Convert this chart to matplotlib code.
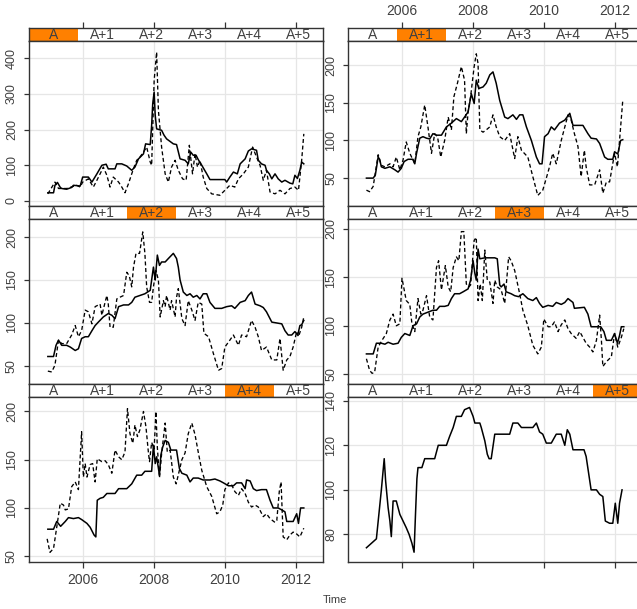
import matplotlib
matplotlib.use("Agg")
import matplotlib.pyplot as plt
from matplotlib import font_manager
from matplotlib.font_manager import FontProperties
from matplotlib.patches import Rectangle


def has_font(name):
    try:
        font_manager.findfont(FontProperties(family=name), fallback_to_default=False)
        return True
    except Exception:
        return False


MAIN_FONT = "Liberation Sans" if has_font("Liberation Sans") else "DejaVu Sans"
NARROW_FONT = "Liberation Sans Narrow" if has_font("Liberation Sans Narrow") else MAIN_FONT
plt.rcParams["font.family"] = [MAIN_FONT, "DejaVu Sans"]

# ---------------- data ----------------
levels = ["A", "A+1", "A+2", "A+3", "A+4", "A+5"]
year_ticks = [2006, 2008, 2010, 2012]

A_solid = [(2005.02,23),(2005.18,23),(2005.22,44),(2005.29,52),(2005.37,38),(2005.41,35),(2005.55,33),(2005.69,38),(2005.74,44),(2005.93,42),(2006.00,67),(2006.16,67),(2006.26,53),(2006.40,76),(2006.54,100),(2006.66,103),(2006.72,90),(2006.91,90),(2006.96,104),(2007.10,104),(2007.24,98),(2007.38,86),(2007.47,95),(2007.57,118),(2007.71,132),(2007.77,160),(2007.90,158),(2007.94,212),(2007.97,272),(2008.01,305),(2008.04,240),(2008.08,202),(2008.22,198),(2008.29,184),(2008.36,174),(2008.55,160),(2008.64,158),(2008.74,118),(2008.88,114),(2008.97,104),(2009.04,137),(2009.11,128),(2009.19,128),(2009.25,116),(2009.35,100),(2009.49,76),(2009.58,60),(2010.00,60),(2010.05,53),(2010.14,67),(2010.24,81),(2010.35,76),(2010.43,104),(2010.57,118),(2010.66,140),(2010.75,146),(2010.89,142),(2010.94,114),(2011.03,104),(2011.13,100),(2011.17,86),(2011.25,76),(2011.32,62),(2011.41,76),(2011.50,62),(2011.60,53),(2011.69,58),(2011.83,50),(2011.91,48),(2011.97,72),(2012.04,63),(2012.11,86),(2012.16,109),(2012.22,104)]
A_dashed = [(2005.02,20),(2005.22,53),(2005.32,35),(2005.55,35),(2005.83,44),(2005.93,39),(2006.00,53),(2006.16,62),(2006.30,39),(2006.40,58),(2006.54,86),(2006.58,95),(2006.68,72),(2006.77,39),(2006.86,67),(2007.01,53),(2007.10,39),(2007.19,23),(2007.29,49),(2007.43,91),(2007.52,114),(2007.61,123),(2007.71,137),(2007.80,151),(2007.90,109),(2007.94,100),(2008.01,337),(2008.08,417),(2008.13,254),(2008.22,151),(2008.32,76),(2008.41,53),(2008.50,95),(2008.60,114),(2008.69,86),(2008.81,62),(2008.91,58),(2009.00,156),(2009.09,76),(2009.16,132),(2009.23,95),(2009.30,114),(2009.39,67),(2009.49,35),(2009.63,20),(2009.86,16),(2010.00,30),(2010.14,44),(2010.28,39),(2010.38,62),(2010.52,76),(2010.66,95),(2010.78,151),(2010.89,123),(2010.99,100),(2011.08,58),(2011.17,86),(2011.27,25),(2011.41,20),(2011.55,30),(2011.69,20),(2011.83,35),(2011.97,39),(2012.07,30),(2012.11,67),(2012.16,114),(2012.22,188)]

A1_solid = [(2005.00,50),(2005.19,50),(2005.25,54),(2005.33,78),(2005.37,75),(2005.42,65),(2005.52,63),(2005.66,65),(2005.80,61),(2005.89,58),(2005.98,63),(2006.06,72),(2006.17,75),(2006.31,75),(2006.36,69),(2006.41,83),(2006.50,103),(2006.59,105),(2006.69,103),(2006.78,102),(2006.87,109),(2006.97,107),(2007.11,107),(2007.25,118),(2007.39,123),(2007.53,129),(2007.67,125),(2007.76,131),(2007.86,138),(2007.95,162),(2008.03,149),(2008.09,180),(2008.16,169),(2008.28,171),(2008.37,176),(2008.47,187),(2008.56,191),(2008.65,176),(2008.75,153),(2008.89,131),(2008.98,129),(2009.12,134),(2009.22,128),(2009.31,134),(2009.40,134),(2009.50,118),(2009.64,100),(2009.78,78),(2009.87,69),(2009.94,69),(2010.01,105),(2010.11,109),(2010.20,118),(2010.29,114),(2010.43,123),(2010.58,127),(2010.72,136),(2010.81,120),(2011.09,120),(2011.23,109),(2011.32,103),(2011.47,102),(2011.56,96),(2011.70,78),(2011.79,75),(2011.93,75),(2011.98,85),(2012.07,82),(2012.15,100),(2012.21,101)]
A1_dashed = [(2005.00,34),(2005.09,32),(2005.19,39),(2005.33,81),(2005.42,67),(2005.52,65),(2005.66,69),(2005.75,65),(2005.84,78),(2005.94,61),(2006.03,74),(2006.12,98),(2006.22,83),(2006.31,74),(2006.36,69),(2006.45,105),(2006.53,118),(2006.64,147),(2006.73,118),(2006.83,83),(2006.92,109),(2007.00,105),(2007.09,78),(2007.20,100),(2007.30,131),(2007.39,114),(2007.46,158),(2007.56,176),(2007.67,198),(2007.76,180),(2007.81,109),(2007.86,138),(2007.93,158),(2008.03,198),(2008.09,215),(2008.14,202),(2008.19,114),(2008.28,111),(2008.37,114),(2008.47,118),(2008.56,134),(2008.65,118),(2008.75,105),(2008.89,100),(2009.03,109),(2009.17,76),(2009.26,105),(2009.36,87),(2009.54,78),(2009.68,52),(2009.82,27),(2009.96,34),(2010.06,50),(2010.15,65),(2010.24,83),(2010.34,69),(2010.48,100),(2010.67,134),(2010.76,127),(2010.85,109),(2010.95,92),(2011.04,52),(2011.13,87),(2011.18,65),(2011.28,41),(2011.42,41),(2011.56,61),(2011.65,30),(2011.75,45),(2011.84,45),(2011.98,83),(2012.06,65),(2012.12,100),(2012.21,153)]

A2_solid = [(2005.02,61),(2005.18,61),(2005.25,74),(2005.32,80),(2005.41,74),(2005.55,74),(2005.65,72),(2005.79,68),(2005.88,70),(2005.97,82),(2006.07,84),(2006.16,84),(2006.26,91),(2006.35,97),(2006.44,101),(2006.58,107),(2006.72,111),(2006.82,109),(2006.91,105),(2007.01,119),(2007.15,121),(2007.29,121),(2007.38,124),(2007.47,130),(2007.61,132),(2007.75,134),(2007.90,138),(2007.94,150),(2007.99,165),(2008.04,150),(2008.10,179),(2008.16,167),(2008.22,171),(2008.32,171),(2008.41,175),(2008.55,181),(2008.64,175),(2008.69,165),(2008.74,150),(2008.83,136),(2008.93,132),(2009.02,134),(2009.11,130),(2009.21,132),(2009.30,128),(2009.39,134),(2009.49,134),(2009.58,124),(2009.72,117),(2009.91,117),(2010.05,119),(2010.19,120),(2010.28,117),(2010.43,124),(2010.57,126),(2010.66,132),(2010.75,136),(2010.85,122),(2010.99,120),(2011.08,118),(2011.17,113),(2011.32,101),(2011.46,100),(2011.60,99),(2011.69,91),(2011.78,86),(2011.88,86),(2011.97,90),(2012.05,86),(2012.11,97),(2012.16,98),(2012.22,103)]
A2_dashed = [(2005.02,44),(2005.13,43),(2005.22,51),(2005.32,80),(2005.41,76),(2005.55,76),(2005.69,86),(2005.79,97),(2005.88,84),(2005.97,91),(2006.07,115),(2006.16,113),(2006.26,99),(2006.35,119),(2006.49,122),(2006.54,109),(2006.63,124),(2006.68,132),(2006.72,122),(2006.77,95),(2006.86,95),(2006.96,128),(2007.05,130),(2007.15,132),(2007.24,159),(2007.31,155),(2007.38,142),(2007.43,165),(2007.50,181),(2007.60,181),(2007.69,206),(2007.75,181),(2007.80,142),(2007.88,124),(2007.94,124),(2007.99,142),(2008.06,161),(2008.13,150),(2008.18,107),(2008.27,126),(2008.32,119),(2008.36,132),(2008.46,115),(2008.50,126),(2008.60,107),(2008.64,130),(2008.69,140),(2008.79,105),(2008.88,97),(2008.97,126),(2009.07,115),(2009.16,103),(2009.25,124),(2009.35,122),(2009.41,88),(2009.54,84),(2009.68,64),(2009.82,45),(2009.91,47),(2010.00,72),(2010.14,80),(2010.24,86),(2010.38,74),(2010.47,86),(2010.61,84),(2010.75,103),(2010.85,95),(2010.94,84),(2011.03,68),(2011.17,72),(2011.32,57),(2011.46,57),(2011.55,82),(2011.64,45),(2011.74,57),(2011.83,61),(2011.92,72),(2012.02,90),(2012.07,84),(2012.16,95),(2012.22,107)]

A3_solid = [(2005.00,71),(2005.19,71),(2005.28,82),(2005.42,82),(2005.52,81),(2005.61,83),(2005.75,81),(2005.89,82),(2005.98,88),(2006.08,92),(2006.22,90),(2006.31,100),(2006.41,102),(2006.50,109),(2006.59,112),(2006.73,114),(2006.87,116),(2006.97,116),(2007.06,120),(2007.20,120),(2007.30,121),(2007.39,128),(2007.48,133),(2007.62,133),(2007.72,135),(2007.86,138),(2007.93,147),(2008.00,167),(2008.05,154),(2008.09,147),(2008.14,179),(2008.19,169),(2008.33,170),(2008.61,170),(2008.68,169),(2008.75,142),(2008.79,140),(2008.87,143),(2008.93,135),(2009.07,133),(2009.17,131),(2009.28,130),(2009.40,133),(2009.54,128),(2009.68,126),(2009.78,129),(2009.87,123),(2009.96,119),(2010.11,121),(2010.24,120),(2010.34,124),(2010.48,122),(2010.58,124),(2010.67,128),(2010.81,124),(2010.85,118),(2011.13,119),(2011.23,112),(2011.32,99),(2011.59,99),(2011.68,94),(2011.75,85),(2011.89,85),(2011.98,92),(2012.06,82),(2012.12,90),(2012.17,99),(2012.24,99)]
A3_dashed = [(2005.00,66),(2005.09,54),(2005.16,51),(2005.23,52),(2005.33,78),(2005.42,84),(2005.56,92),(2005.66,106),(2005.75,112),(2005.84,100),(2005.94,102),(2006.00,149),(2006.12,126),(2006.22,122),(2006.28,102),(2006.36,94),(2006.45,128),(2006.53,112),(2006.59,116),(2006.69,131),(2006.78,109),(2006.87,106),(2006.97,160),(2007.03,167),(2007.11,137),(2007.22,162),(2007.30,140),(2007.37,135),(2007.44,160),(2007.53,171),(2007.60,167),(2007.67,197),(2007.74,197),(2007.81,143),(2007.88,140),(2007.93,142),(2008.03,188),(2008.09,191),(2008.14,126),(2008.20,143),(2008.26,126),(2008.33,178),(2008.40,147),(2008.47,145),(2008.56,123),(2008.61,147),(2008.68,140),(2008.79,137),(2008.89,123),(2009.00,171),(2009.07,167),(2009.17,157),(2009.31,133),(2009.40,116),(2009.54,100),(2009.68,80),(2009.82,71),(2009.92,78),(2009.99,107),(2010.11,99),(2010.20,99),(2010.29,104),(2010.39,94),(2010.48,101),(2010.58,106),(2010.67,97),(2010.76,92),(2010.90,87),(2011.00,94),(2011.09,88),(2011.18,82),(2011.28,78),(2011.37,73),(2011.47,85),(2011.56,111),(2011.61,85),(2011.65,58),(2011.75,63),(2011.89,68),(2011.98,92),(2012.07,78),(2012.17,88),(2012.24,97)]

A4_solid = [(2005.02,78),(2005.18,78),(2005.27,86),(2005.38,81),(2005.51,86),(2005.60,90),(2005.74,89),(2005.88,90),(2005.97,88),(2006.12,84),(2006.21,80),(2006.32,72),(2006.37,70),(2006.41,108),(2006.49,110),(2006.58,111),(2006.68,115),(2006.91,115),(2007.01,120),(2007.24,120),(2007.38,125),(2007.52,134),(2007.66,134),(2007.75,138),(2007.94,138),(2007.99,165),(2008.04,146),(2008.08,153),(2008.16,134),(2008.20,155),(2008.25,163),(2008.32,170),(2008.41,168),(2008.48,160),(2008.64,160),(2008.72,141),(2008.79,136),(2008.93,134),(2009.02,127),(2009.11,131),(2009.25,131),(2009.39,129),(2009.58,129),(2009.72,130),(2009.86,128),(2009.96,126),(2010.10,123),(2010.24,123),(2010.33,126),(2010.47,126),(2010.57,120),(2010.61,129),(2010.71,128),(2010.80,120),(2010.89,118),(2011.03,119),(2011.17,119),(2011.27,108),(2011.36,100),(2011.50,100),(2011.60,98),(2011.69,96),(2011.74,86),(2011.92,86),(2012.02,94),(2012.07,84),(2012.13,100),(2012.22,100)]
A4_dashed = [(2005.00,68),(2005.08,54),(2005.18,58),(2005.27,80),(2005.37,105),(2005.46,103),(2005.51,98),(2005.60,99),(2005.69,122),(2005.79,127),(2005.88,119),(2005.97,179),(2006.02,132),(2006.07,146),(2006.12,132),(2006.21,145),(2006.28,146),(2006.35,127),(2006.41,151),(2006.54,148),(2006.63,149),(2006.72,145),(2006.82,136),(2006.91,160),(2007.01,153),(2007.10,150),(2007.19,158),(2007.26,203),(2007.33,177),(2007.41,167),(2007.47,186),(2007.54,174),(2007.61,181),(2007.71,200),(2007.78,184),(2007.85,157),(2007.88,148),(2007.94,168),(2008.01,161),(2008.06,200),(2008.10,163),(2008.16,131),(2008.22,156),(2008.32,188),(2008.38,158),(2008.46,160),(2008.55,132),(2008.63,125),(2008.72,139),(2008.79,150),(2008.88,157),(2008.97,177),(2009.07,188),(2009.16,176),(2009.25,158),(2009.35,139),(2009.49,122),(2009.63,112),(2009.77,94),(2009.86,96),(2009.94,103),(2010.00,119),(2010.10,126),(2010.19,124),(2010.28,117),(2010.38,113),(2010.47,120),(2010.57,115),(2010.66,106),(2010.75,101),(2010.85,103),(2010.94,101),(2011.08,91),(2011.17,94),(2011.27,89),(2011.41,85),(2011.46,87),(2011.53,117),(2011.58,127),(2011.64,70),(2011.74,67),(2011.83,72),(2011.92,75),(2012.02,73),(2012.11,70),(2012.22,79)]

A5_solid = [(2005.00,74),(2005.14,76),(2005.28,78),(2005.35,89),(2005.42,100),(2005.50,114),(2005.54,104),(2005.61,92),(2005.66,86),(2005.70,79),(2005.75,95),(2005.84,95),(2005.94,89),(2006.03,86),(2006.12,83),(2006.20,80),(2006.28,76),(2006.34,72),(2006.38,89),(2006.42,105),(2006.45,110),(2006.56,110),(2006.64,114),(2006.92,114),(2007.02,120),(2007.25,120),(2007.34,124),(2007.44,128),(2007.53,133),(2007.67,133),(2007.76,136),(2007.90,137),(2008.00,133),(2008.05,130),(2008.19,130),(2008.23,128),(2008.33,122),(2008.40,116),(2008.45,114),(2008.51,114),(2008.61,125),(2009.03,125),(2009.12,130),(2009.26,130),(2009.36,128),(2009.68,128),(2009.78,130),(2009.87,126),(2009.96,125),(2010.06,121),(2010.20,121),(2010.34,125),(2010.48,125),(2010.58,120),(2010.65,127),(2010.72,125),(2010.81,118),(2011.12,118),(2011.18,115),(2011.32,100),(2011.47,100),(2011.56,98),(2011.65,97),(2011.72,86),(2011.84,85),(2011.93,85),(2012.00,94),(2012.07,85),(2012.12,94),(2012.19,100)]

panels = [
    dict(level=0, solid=A_solid, dashed=A_dashed, ylim=(-14, 448), yticks=[0, 100, 200, 300, 400], row=0, col=0),
    dict(level=1, solid=A1_solid, dashed=A1_dashed, ylim=(13, 232), yticks=[50, 100, 150, 200], row=0, col=1),
    dict(level=2, solid=A2_solid, dashed=A2_dashed, ylim=(29, 221), yticks=[50, 100, 150, 200], row=1, col=0),
    dict(level=3, solid=A3_solid, dashed=A3_dashed, ylim=(40, 210), yticks=[50, 100, 150, 200], row=1, col=1),
    dict(level=4, solid=A4_solid, dashed=A4_dashed, ylim=(44, 215), yticks=[50, 100, 150, 200], row=2, col=0),
    dict(level=5, solid=A5_solid, dashed=None, ylim=(67.6, 141.7), yticks=[80, 100, 120, 140], row=2, col=1),
]

# ---------------- layout ----------------
W, H = 637, 609
fig = plt.figure(figsize=(W / 100, H / 100), dpi=100)
fig.patch.set_facecolor("white")

XLIM = (2004.49, 2012.76)
col_left = [29, 348.3]
panel_w = 294
strip_top = [28, 206, 384]
strip_h = 13
panel_h = 165

TXT = "#404040"
EDGE = "#333333"
GRID = "#e6e6e6"
ORANGE = "#ff8000"


def fx(px):
    return px / W


def fy(px):
    return 1 - px / H


for p in panels:
    r, c = p["row"], p["col"]
    x0 = col_left[c]
    st = strip_top[r]
    # strip axes
    sax = fig.add_axes([fx(x0), fy(st + strip_h), panel_w / W, strip_h / H])
    sax.set_xlim(*XLIM)
    sax.set_ylim(0, 1)
    sax.set_yticks([])
    sax.add_patch(Rectangle((p["level"] / 6, 0), 1 / 6, 1, transform=sax.transAxes,
                            facecolor=ORANGE, edgecolor="none", zorder=0))
    for i, lab in enumerate(levels):
        sax.text((i + 0.5) / 6, 0.45, lab, transform=sax.transAxes, ha="center", va="center",
                 fontsize=10, color=TXT, family=[MAIN_FONT, "DejaVu Sans"])
    if r == 0:
        sax.xaxis.tick_top()
        sax.set_xticks(year_ticks)
        sax.tick_params(axis="x", top=True, bottom=False, labeltop=(c == 1), labelbottom=False,
                        direction="out", length=4, width=0.9, color=EDGE, pad=3.5,
                        labelsize=10, labelcolor=TXT)
    else:
        sax.set_xticks([])
    for sp in sax.spines.values():
        sp.set_color(EDGE)
        sp.set_linewidth(1.0)

    # panel axes
    ax = fig.add_axes([fx(x0), fy(st + strip_h + panel_h), panel_w / W, panel_h / H])
    ax.set_xlim(*XLIM)
    ax.set_ylim(*p["ylim"])
    ax.set_xticks(year_ticks)
    ax.set_yticks(p["yticks"])
    ax.grid(True, color=GRID, linewidth=0.9)
    ax.set_axisbelow(True)
    if r == 2:
        ax.tick_params(axis="x", bottom=True, labelbottom=(c == 0), direction="out", length=4,
                       width=0.9, color=EDGE, pad=4, labelsize=10, labelcolor=TXT)
    else:
        ax.tick_params(axis="x", bottom=False, labelbottom=False)
    ax.tick_params(axis="y", left=True, labelleft=True, direction="out", length=3.5, width=0.9,
                   color=EDGE, pad=4.5, labelsize=9, labelcolor=TXT, labelrotation=90)
    for lab in ax.get_yticklabels():
        lab.set_va("center")
        lab.set_family([NARROW_FONT, "DejaVu Sans"])
    for sp in ax.spines.values():
        sp.set_color(EDGE)
        sp.set_linewidth(1.0)

    ts = [t for t, v in p["solid"]]
    vs = [v for t, v in p["solid"]]
    ax.plot(ts, vs, color="black", linewidth=1.1, solid_joinstyle="round")
    if p["dashed"] is not None:
        td = [t for t, v in p["dashed"]]
        vd = [v for t, v in p["dashed"]]
        ax.plot(td, vd, color="black", linewidth=0.95, linestyle=(0, (3.0, 2.0)))

fig.text(fx(335), fy(600), "Time", ha="center", va="center", fontsize=8, color=TXT)

fig.savefig("out.png", dpi=100, facecolor="white")
